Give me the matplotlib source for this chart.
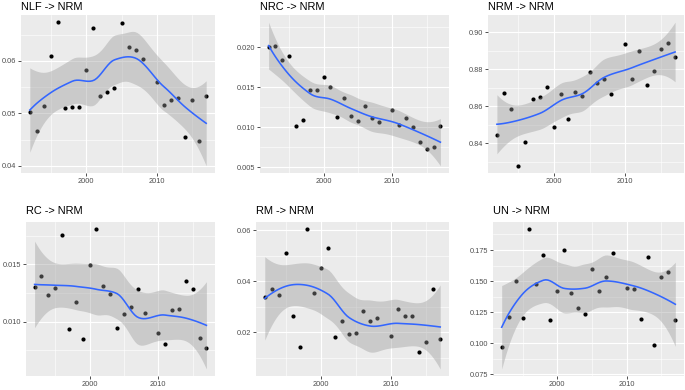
import numpy as np
import matplotlib
matplotlib.use('Agg')
import matplotlib.pyplot as plt
from matplotlib.ticker import MultipleLocator, FormatStrFormatter

plt.rcParams['font.family'] = ['Liberation Sans', 'DejaVu Sans']

years = [1992, 1993, 1994, 1995, 1996, 1997, 1998, 1999, 2000, 2001, 2002, 2003, 2004,
         2005, 2006, 2007, 2008, 2010, 2011, 2012, 2013, 2014, 2015, 2016, 2017]

nlf = [0.0503, 0.0466, 0.0514, 0.0609, 0.0674, 0.0511, 0.0513, 0.0513, 0.0583, 0.0663,
       0.0534, 0.0540, 0.0548, 0.0672, 0.0626, 0.0621, 0.0604, 0.0559, 0.0516, 0.0525,
       0.0529, 0.0455, 0.0526, 0.0448, 0.0533]
nrc = [0.0200, 0.0202, 0.0184, 0.0189, 0.0102, 0.0109, 0.0146, 0.0146, 0.0163, 0.0150,
       0.0113, 0.0136, 0.0114, 0.0108, 0.0126, 0.0112, 0.0106, 0.0122, 0.0103, 0.0111,
       0.0100, 0.0082, 0.0073, 0.0075, 0.0101]
nrm = [0.8446, 0.8672, 0.8583, 0.8277, 0.8405, 0.8640, 0.8651, 0.8705, 0.8488, 0.8668,
       0.8530, 0.8679, 0.8655, 0.8785, 0.8725, 0.8750, 0.8666, 0.8939, 0.8746, 0.8899,
       0.8717, 0.8789, 0.8908, 0.8945, 0.8868]
rc = [0.01302, 0.01402, 0.01236, 0.01293, 0.01753, 0.00937, 0.01170, 0.00853, 0.01497,
      0.01807, 0.01313, 0.01241, 0.00943, 0.01063, 0.01132, 0.01287, 0.01078, 0.00905,
      0.00805, 0.01098, 0.01112, 0.01353, 0.01284, 0.00859, 0.00770]
rm = [0.0338, 0.0368, 0.0344, 0.0509, 0.0262, 0.0143, 0.0605, 0.0352, 0.0451, 0.0530,
      0.0179, 0.0243, 0.0194, 0.0196, 0.0284, 0.0244, 0.0256, 0.0184, 0.0291, 0.0265,
      0.0264, 0.0122, 0.0162, 0.0368, 0.0173]
un = [0.0968, 0.1210, 0.1503, 0.1205, 0.1919, 0.1474, 0.1713, 0.1189, 0.1421, 0.1749,
      0.1407, 0.1288, 0.1238, 0.1598, 0.1423, 0.1534, 0.1728, 0.1442, 0.1434, 0.1199,
      0.1692, 0.0989, 0.1537, 0.1577, 0.1189]

titles = ['NLF -> NRM', 'NRC -> NRM', 'NRM -> NRM', 'RC -> NRM', 'RM -> NRM', 'UN -> NRM']
series = [nlf, nrc, nrm, rc, rm, un]
y_major = [0.01, 0.005, 0.02, 0.005, 0.02, 0.025]
y_fmt = ['%.2f', '%.3f', '%.2f', '%.3f', '%.2f', '%.3f']


# loess (degree 2, span 0.75) with kd-tree vertex interpolation, like R's default
def local_rows(x, x0, q):
    d = np.abs(x - x0)
    h = np.sort(d)[q - 1]
    u = d / h
    w = np.where(u < 1, (1 - u ** 3) ** 3, 0.0)
    X = np.column_stack([np.ones_like(x), x - x0, (x - x0) ** 2])
    XtW = X.T * w
    A = np.linalg.pinv(XtW @ X) @ XtW
    return A[0], A[1]


def kd_leaves(x, fc):
    xs = np.sort(x)
    mu = 0.005 * (xs[-1] - xs[0])
    leaves = []

    def split(l, u, a, b):
        if u - l + 1 <= fc:
            leaves.append((a, b))
            return
        m = (l + u) // 2
        v = xs[m]
        if v == a or v == b:
            leaves.append((a, b))
            return
        split(l, m, a, v)
        split(m + 1, u, v, b)

    split(0, len(xs) - 1, xs[0] - mu, xs[-1] + mu)
    return leaves


def t_975(nu):
    z = 1.959963985
    g1 = (z ** 3 + z) / 4
    g2 = (5 * z ** 5 + 16 * z ** 3 + 3 * z) / 96
    g3 = (3 * z ** 7 + 19 * z ** 5 + 17 * z ** 3 - 15 * z) / 384
    g4 = (79 * z ** 9 + 776 * z ** 7 + 1482 * z ** 5 - 1920 * z ** 3 - 945 * z) / 92160
    return z + g1 / nu + g2 / nu ** 2 + g3 / nu ** 3 + g4 / nu ** 4


def loess_band(x, y, span=0.75, cell=0.2, ngrid=80):
    x = np.asarray(x, float)
    y = np.asarray(y, float)
    n = len(x)
    q = int(np.floor(n * span + 1e-5))
    fc = int(np.floor(n * span * cell))
    leaves = kd_leaves(x, fc)
    verts = sorted(set([a for a, b in leaves] + [b for a, b in leaves]))
    rows = {v: local_rows(x, v, q) for v in verts}

    def op(z):
        for a, b in leaves:
            if a <= z <= b:
                break
        h = (z - a) / (b - a)
        w = b - a
        phi0 = (1 - h) ** 2 * (1 + 2 * h)
        phi1 = h ** 2 * (3 - 2 * h)
        psi0 = h * (1 - h) ** 2
        psi1 = h ** 2 * (h - 1)
        va, sa = rows[a]
        vb, sb = rows[b]
        return phi0 * va + phi1 * vb + (psi0 * sa + psi1 * sb) * w

    Lx = np.array([op(z) for z in x])
    res = y - Lx @ y
    M = np.eye(n) - Lx
    MM = M.T @ M
    d1 = np.trace(MM)
    d2 = np.trace(MM @ MM)
    s = np.sqrt(res @ res / d1)
    tq = t_975(d1 ** 2 / d2)
    grid = np.linspace(x.min(), x.max(), ngrid)
    Lg = np.array([op(z) for z in grid])
    fit = Lg @ y
    se = s * np.sqrt((Lg ** 2).sum(1))
    return grid, fit, fit - tq * se, fit + tq * se


W, H = 685, 390
# panel boxes in pixels: left, right, top, bottom
boxes = [(21, 215, 15, 173), (260, 449, 15, 173), (488, 684, 15, 173),
         (26, 215, 222, 376), (256, 449, 222, 376), (493, 684, 222, 376)]
title_base = [10.5, 10.5, 10.5, 214, 214, 214]

fig = plt.figure(figsize=(W / 100, H / 100), dpi=100)

for i, vals in enumerate(series):
    l, r, t, b = boxes[i]
    ax = fig.add_axes([l / W, 1 - b / H, (r - l) / W, (b - t) / H])
    ax.set_facecolor('#EBEBEB')
    for sp in ax.spines.values():
        sp.set_visible(False)
    gx, fit, lo, hi = loess_band(years, vals)
    ax.scatter(years, vals, s=9, color='black', linewidths=0, zorder=2)
    ax.fill_between(gx, lo, hi, color='#999999', alpha=0.4, linewidth=0, zorder=3)
    ax.plot(gx, fit, color='#3366FF', lw=1.15, zorder=4)

    xr = max(years) - min(years)
    ax.set_xlim(min(years) - 0.05 * xr, max(years) + 0.05 * xr)
    ymin = min(min(vals), lo.min())
    ymax = max(max(vals), hi.max())
    pad = 0.05 * (ymax - ymin)
    ax.set_ylim(ymin - pad, ymax + pad)

    ax.xaxis.set_major_locator(MultipleLocator(10))
    ax.xaxis.set_minor_locator(MultipleLocator(5))
    ax.yaxis.set_major_locator(MultipleLocator(y_major[i]))
    ax.yaxis.set_minor_locator(MultipleLocator(y_major[i] / 2))
    ax.yaxis.set_major_formatter(FormatStrFormatter(y_fmt[i]))
    ax.grid(which='major', color='white', lw=0.8)
    ax.grid(which='minor', color='white', lw=0.4)
    ax.set_axisbelow(True)
    ax.tick_params(which='major', length=2, width=0.6, color='#333333',
                   labelsize=5.3, labelcolor='#4D4D4D', pad=1.5)
    ax.tick_params(which='minor', length=0)

    fig.text(l / W, 1 - title_base[i] / H, titles[i], fontsize=7.9,
             color='black', ha='left', va='baseline')

fig.savefig('out.png', dpi=100)
